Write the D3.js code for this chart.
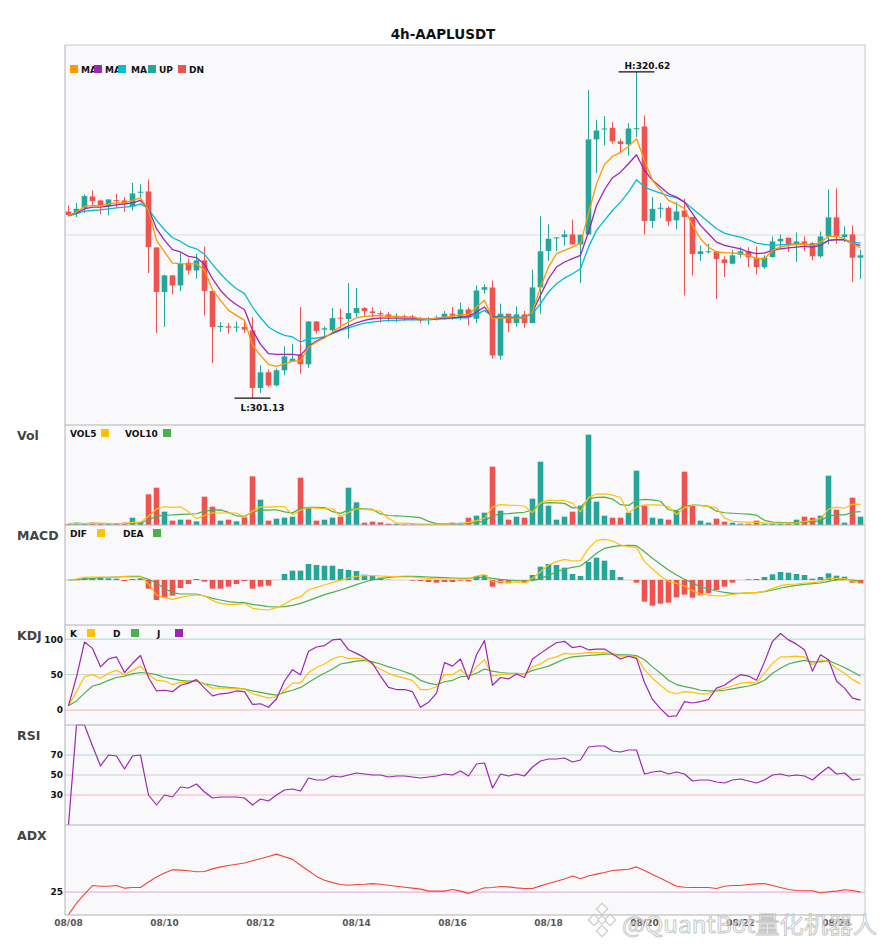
<!DOCTYPE html>
<html><head><meta charset="utf-8">
<script src="https://cdn.jsdelivr.net/npm/d3@7"></script>
<style>body{margin:0;background:#fff;} svg{display:block;font-family:"DejaVu Sans",sans-serif;}</style>
</head><body><svg id="chart" width="885" height="950"></svg>
<script>
const title = "4h-AAPLUSDT";
const dateLabels = ["08/08","08/10","08/12","08/14","08/16","08/18","08/20","08/22","08/24"];
const dateIndex = [0,12,24,36,48,60,72,84,96];

const open = [312.28,312.15,312.48,313.18,312.94,312.60,312.96,312.94,312.58,313.42,
313.48,310.13,307.47,308.46,307.86,309.22,308.76,309.36,307.53,305.40,
305.42,305.36,305.38,305.18,301.73,302.67,301.89,302.79,303.34,303.72,
303.15,305.71,305.22,305.18,305.93,305.85,306.21,306.51,306.31,306.21,
306.13,305.97,306.03,306.01,305.87,305.83,305.89,305.91,306.17,305.97,
306.43,305.87,307.60,307.74,303.66,306.17,305.61,306.13,305.61,307.74,
309.92,310.69,310.75,310.91,310.31,310.91,316.59,317.20,317.28,316.47,
316.29,317.20,317.36,311.71,312.46,312.50,311.75,312.34,311.95,309.74,
309.86,309.90,309.42,309.16,309.70,309.90,309.52,308.96,309.56,310.49,
310.71,310.35,310.49,310.39,309.60,310.79,311.93,310.75,310.91,309.52];
const high = [312.64,312.80,313.30,313.54,312.98,313.00,313.34,313.14,314.00,313.90,
314.20,310.13,308.50,308.46,309.82,309.46,309.76,310.19,307.53,305.67,
305.61,305.71,305.73,305.97,303.09,302.83,302.89,304.22,304.38,306.57,
305.71,305.71,305.41,306.51,306.47,308.00,307.71,306.57,306.57,306.33,
306.27,306.21,306.13,306.11,305.97,305.97,306.05,306.33,306.57,306.83,
306.57,307.86,307.92,308.16,306.77,306.17,306.61,306.33,308.80,311.99,
311.51,310.75,311.15,311.79,310.91,319.55,317.76,317.98,317.62,316.63,
317.56,320.62,318.02,313.14,312.78,312.60,312.84,313.04,311.95,310.25,
310.35,309.90,309.60,310.00,310.15,310.15,310.19,309.66,310.79,310.91,
310.71,311.03,310.79,310.45,311.09,313.60,313.66,311.39,311.45,310.00];
const low = [312.01,311.95,312.19,312.64,312.11,312.05,312.54,312.25,312.34,313.14,
308.60,305.02,305.38,307.33,307.53,308.52,308.26,306.07,303.22,305.08,
304.98,305.08,305.02,301.13,301.43,301.79,301.83,302.49,303.28,302.59,
302.93,304.98,304.68,304.98,305.28,304.68,305.97,305.97,305.97,305.63,
305.67,305.67,305.73,305.77,305.61,305.51,305.77,305.81,305.81,305.77,
305.47,305.61,307.37,303.48,303.42,305.08,305.41,305.33,305.61,306.17,
309.32,309.92,310.25,310.31,308.00,310.91,314.57,316.23,316.33,315.83,
315.63,316.73,310.91,311.29,311.89,311.41,311.21,307.27,308.46,309.32,
309.76,307.05,308.36,309.12,309.52,308.96,308.52,308.86,309.52,310.05,
309.86,309.26,309.92,309.36,309.52,310.31,310.35,310.45,308.06,308.24];
const close = [312.07,312.44,313.20,312.90,312.62,313.00,312.92,312.70,313.36,313.46,
310.15,307.47,308.46,307.86,309.16,308.76,309.36,307.53,305.38,305.44,
305.34,305.40,305.22,301.73,302.67,301.89,302.79,303.62,303.48,303.15,
305.71,305.14,305.30,305.91,305.87,306.21,306.51,306.33,306.21,306.13,
305.97,306.05,305.97,305.91,305.77,305.87,305.93,306.17,306.05,306.43,
305.97,307.56,307.76,303.68,306.17,305.61,306.13,305.61,307.74,309.90,
310.65,310.73,310.91,310.31,310.89,316.59,317.12,317.24,316.47,316.31,
317.24,317.26,311.71,312.44,312.50,311.69,312.28,311.95,309.74,309.90,
309.90,309.44,309.20,309.66,309.90,309.54,308.96,309.52,310.49,310.65,
310.29,310.49,310.35,309.60,310.79,311.93,310.79,310.91,309.52,309.66];

const ma5 = [312.05,312.25,312.58,312.64,312.60,312.74,312.80,312.80,312.94,313.10,
312.38,310.55,309.86,309.20,309.16,309.14,309.16,308.76,307.60,306.97,
306.37,306.07,305.77,304.28,303.68,303.15,303.03,303.18,303.34,303.34,
304.18,304.48,304.72,305.08,305.41,305.67,305.93,306.01,306.05,306.05,
306.01,306.01,305.97,305.97,305.87,305.83,305.91,305.97,306.01,306.11,
306.11,306.57,306.97,305.87,305.93,305.91,305.91,305.93,306.27,307.76,
308.96,309.76,309.96,310.15,310.39,312.15,313.94,315.09,315.57,315.81,
316.17,316.63,315.33,314.14,313.54,312.94,312.74,312.44,311.45,310.65,
310.15,309.86,309.82,309.80,309.76,309.66,309.46,309.46,309.96,310.15,
310.25,310.31,310.31,310.25,310.45,310.79,310.79,310.65,310.35,310.11];
const ma10 = [312.05,312.19,312.44,312.54,312.54,312.60,312.68,312.74,312.80,312.94,
312.44,311.25,310.55,310.00,309.86,309.60,309.52,309.12,308.26,307.56,
307.07,306.71,306.41,305.18,304.34,303.78,303.74,303.74,303.74,303.68,
304.22,304.54,304.78,305.02,305.22,305.43,305.63,305.77,305.87,305.91,
305.91,305.91,305.91,305.91,305.87,305.83,305.87,305.91,305.93,305.97,
306.01,306.27,306.57,305.97,305.97,305.93,305.93,305.93,306.27,307.27,
308.26,308.96,309.26,309.46,309.66,311.05,312.64,313.58,314.30,314.63,
315.13,315.67,314.73,314.14,313.74,313.34,313.14,312.84,312.15,311.45,
310.95,310.45,310.25,310.15,310.05,309.86,309.76,309.80,309.96,310.05,
310.11,310.15,310.19,310.15,310.25,310.55,310.59,310.59,310.35,310.25];
const ma20 = [312.01,312.15,312.30,312.34,312.38,312.44,312.50,312.54,312.58,312.74,
312.44,311.75,311.19,310.71,310.49,310.19,310.05,309.72,309.12,308.56,
308.06,307.66,307.37,306.57,305.93,305.38,305.08,304.88,304.78,304.48,
304.68,304.72,304.78,304.98,305.18,305.33,305.47,305.61,305.67,305.73,
305.77,305.77,305.81,305.81,305.81,305.81,305.85,305.87,305.89,305.93,
305.93,306.13,306.37,306.01,306.01,305.97,305.97,305.97,306.17,306.77,
307.47,307.96,308.30,308.56,308.86,310.15,311.15,311.75,312.34,312.84,
313.44,314.18,313.74,313.54,313.38,313.22,313.10,312.84,312.44,312.05,
311.65,311.25,310.99,310.85,310.75,310.59,310.39,310.31,310.25,310.29,
310.31,310.35,310.31,310.29,310.31,310.55,310.61,310.59,310.45,310.39];

const volume = [3,7,3,7,3,3,3,7,22,8, 92,112,40,13,16,16,11,85,55,13,
16,11,23,146,76,13,19,22,25,142, 51,13,16,22,25,112,68,7,10,8,
4,4,2,2,2,2,2,2,7,7, 22,28,37,175,43,16,25,22,79,190,
58,16,25,40,58,271,70,28,22,22, 37,163,58,22,19,16,43,160,58,13,
7,19,10,7,4,4,13,4,4,4, 4,16,25,22,28,148,46,7,82,25];
const vol5 = [3,5,4.3,5,4.6,4.6,3.8,4.6,7.6,8.6, 26.4,48.2,54.8,53,54.6,39.4,19.2,28.2,36.6,36,
36,36,23.6,41.8,54.4,53.8,55.4,55.2,31,44.2, 51.8,50.6,49.4,48.8,25.4,37.6,48.6,46.8,44.4,41,
19.4,6.6,5.6,4,2.8,2.4,2,2,3,4, 8,13.2,20.2,53.8,61,59.8,59.2,56.2,37,66.4,
74.8,73,73.6,65.8,39.4,82,92.8,93.4,89.8,82.6, 35.8,54.4,60.4,60.4,59.8,55.6,31.6,52,59.2,58,
56.2,51.4,21.4,11.2,9.4,8.8,7.6,6.4,5.8,5.8, 5.8,6.4,10.6,14.2,19,47.8,53.8,50.2,62.2,61.6];
const vol10 = [3,5,4.3,5,4.6,4.3,4.1,4.5,6.3,6.6, 15.5,26,29.7,30.3,31.6,32.9,33.7,41.5,44.8,45.3,
37.7,27.6,25.9,39.2,45.2,44.9,45.7,39.4,36.4,49.3, 52.8,53,52.3,39.9,34.8,44.7,49.6,48.1,46.6,33.2,
28.5,27.6,26.2,24.2,21.9,10.9,4.3,3.8,3.5,3.4, 5.2,7.6,11.1,28.4,32.5,33.9,36.2,38.2,45.4,63.7,
67.3,66.1,64.9,51.4,52.9,78.4,82.9,83.5,77.8,61, 58.9,73.6,76.9,75.1,71.2,45.7,43,56.2,59.8,58.9,
55.9,41.5,36.7,35.2,33.7,32.5,29.5,13.9,8.5,7.6, 7.3,7,8.5,10,12.4,26.8,30.1,30.4,38.2,40.3];

const dif = [0,0.03,0.08,0.09,0.09,0.08,0.09,0.11,0.12,0.12,
-0.12,-0.45,-0.53,-0.58,-0.52,-0.48,-0.45,-0.47,-0.62,-0.70,
-0.73,-0.73,-0.70,-0.85,-0.88,-0.90,-0.83,-0.73,-0.58,-0.50,
-0.30,-0.22,-0.15,-0.07,-0.01,0.06,0.11,0.13,0.13,0.12,
0.11,0.10,0.09,0.09,0.07,0.05,0.03,0.03,0.03,0.03,
0.03,0.12,0.16,-0.05,-0.05,-0.07,-0.06,-0.08,0.05,0.25,
0.45,0.55,0.62,0.57,0.58,0.95,1.18,1.22,1.17,1.05,
1.00,0.98,0.55,0.33,0.12,-0.04,-0.10,-0.18,-0.32,-0.42,
-0.45,-0.48,-0.47,-0.43,-0.40,-0.38,-0.38,-0.34,-0.25,-0.17,
-0.13,-0.12,-0.09,-0.08,-0.05,0.05,0.05,0.04,-0.03,-0.10];
const dea = [0,0.01,0.03,0.05,0.07,0.08,0.09,0.10,0.10,0.10,
0.02,-0.10,-0.25,-0.38,-0.42,-0.42,-0.42,-0.48,-0.55,-0.60,
-0.65,-0.67,-0.68,-0.73,-0.76,-0.80,-0.81,-0.80,-0.76,-0.70,
-0.62,-0.53,-0.44,-0.37,-0.30,-0.22,-0.14,-0.06,0.00,0.04,
0.08,0.10,0.11,0.11,0.10,0.09,0.08,0.07,0.06,0.05,
0.05,0.07,0.09,0.05,0.02,0.00,-0.02,-0.03,-0.02,0.04,
0.14,0.24,0.33,0.38,0.42,0.60,0.80,0.95,1.00,1.03,
1.04,1.03,0.85,0.65,0.47,0.30,0.15,0.02,-0.10,-0.20,
-0.27,-0.33,-0.37,-0.40,-0.40,-0.39,-0.38,-0.35,-0.30,-0.24,
-0.20,-0.16,-0.13,-0.11,-0.09,-0.04,0.00,0.02,0.00,-0.04];
const macdHist = [0,0.02,0.06,0.06,0.06,0.05,0.04,-0.03,0.03,0.05,
-0.26,-0.60,-0.52,-0.47,-0.24,-0.12,0.03,-0.05,-0.26,-0.26,
-0.20,-0.12,-0.03,-0.26,-0.20,-0.17,0,0.18,0.28,0.28,
0.48,0.45,0.43,0.43,0.33,0.30,0.27,0.16,0.12,0.07,
0.01,0,0,-0.02,-0.03,-0.06,-0.08,-0.06,-0.06,-0.02,
-0.04,0.12,0.15,-0.20,-0.10,-0.10,-0.02,-0.08,0.15,0.40,
0.48,0.45,0.37,0.18,0.12,0.54,0.67,0.58,0.30,0.09,
0,-0.08,-0.65,-0.77,-0.71,-0.68,-0.52,-0.44,-0.53,-0.46,
-0.40,-0.30,-0.20,-0.08,0,0.02,0.03,0.09,0.17,0.24,
0.22,0.18,0.15,0.04,0.09,0.20,0.13,0.10,-0.08,-0.10];

const kLine = [6,26,47,50,45,52,56,50,56,62, 50,42,41,36,39,39,42,36,31,31,
31,30,30,23,20,17,19,28,38,38, 53,60,65,72,76,73,73,72,64,58,
52,48,45,42,29,29,33,50,50,57, 47,61,71,48,50,51,51,51,61,65,
72,75,80,79,80,81,81,81,79,76, 76,75,57,45,35,26,23,26,25,23,
23,28,31,34,38,39,38,52,66,75, 75,76,75,64,71,68,59,52,43,37];
const dLine = [6,13,24,34,37,42,46,48,51,53, 52,50,46,44,42,41,41,37,35,33,
32,31,30,27,25,23,21,25,28,32, 39,46,52,58,65,67,69,70,68,65,
61,58,54,50,42,38,36,40,42,47, 48,52,58,55,53,52,52,51,56,59,
62,67,72,75,76,77,78,79,79,78, 78,77,71,61,52,42,36,33,31,28,
27,27,28,30,32,34,37,42,52,59, 65,68,70,68,68,70,65,60,54,48];
const jLine = [6,47,96,87,61,72,75,53,66,77, 46,27,28,26,35,38,43,31,20,23,
24,27,26,8,9,4,16,41,57,50, 83,89,91,99,100,85,80,74,66,48,
32,29,29,26,4,11,24,67,62,72, 43,78,98,35,46,44,51,46,72,80,
88,95,97,88,90,85,86,86,79,72, 76,73,39,15,2,-9,-8,12,10,12,
15,31,35,43,50,48,42,68,97,108, 99,93,85,55,78,71,41,31,17,14];

const rsi = [0,100,100,79,59,70,69,56,69,70, 30,20,30,28,38,37,41,33,27,28,
28,28,27,20,26,24,30,35,36,34, 47,45,45,49,48,50,52,51,50,50,
48,49,49,48,47,48,49,51,50,54, 49,61,62,37,51,49,51,49,58,64,
66,66,67,63,65,78,79,79,74,73, 75,75,51,53,54,51,53,51,44,45,
45,43,42,45,46,44,42,45,50,51, 49,50,49,45,52,58,51,52,45,46];

const adx = [18.1,21.6,24.4,27.0,26.8,26.8,27.0,26.2,26.4,26.4,
28.1,29.6,30.8,31.8,31.7,31.5,31.2,31.3,32.1,32.7,
33.1,33.5,33.9,34.6,35.2,35.9,36.6,35.8,35.0,33.2,
31.5,29.8,28.6,27.9,27.3,27.1,27.3,27.4,27.6,27.4,
27.1,26.8,26.5,26.2,25.9,25.3,25.3,25.3,25.8,25.3,
24.6,25.5,26.3,26.4,26.7,26.6,26.3,26.1,26.1,26.9,
27.6,28.3,29.0,29.9,29.1,29.9,30.5,31.0,31.6,31.8,
32.0,32.7,31.6,30.4,29.2,28.0,26.8,26.5,26.4,26.4,
26.4,26.1,26.8,27.0,27.0,27.3,27.5,27.6,27.0,26.4,
25.8,25.5,25.4,25.4,24.7,25.1,25.3,25.7,25.5,25.0];

// ---------- drawing ----------
const svg = d3.select('#chart');
const L = 65, R = 865;
const P = {main:[45,425], vol:[425,525], macd:[525,625], kdj:[625,725], rsi:[725,825], adx:[825,915]};
const UP = '#26a69a', DN = '#ef5350';
const C = {ma5:'#ff9800', ma10:'#9c27b0', ma20:'#00bcd4', yel:'#ffc107', grn:'#4caf50', pur:'#9c27b0', red:'#f44336'};
const n = close.length;

const x = d3.scaleBand().domain(d3.range(n)).range([64.5, 864.5]).paddingInner(0.3).paddingOuter(0.15);
const bw = x.bandwidth();
const cx = i => x(i) + bw / 2;

const pLo = d3.min(low), pHi = d3.max(high), pad = (pHi - pLo) * 0.0826;
const yP = d3.scaleLinear().domain([pLo - pad, pHi + pad]).range([P.main[1], P.main[0]]);
const yV = d3.scaleLinear().domain([0, 300]).range([P.vol[1], P.vol[0]]);
const yM = d3.scaleLinear().domain([-1.35, 1.65]).range([P.macd[1], P.macd[0]]);
const yK = d3.scaleLinear().domain([-21, 120]).range([P.kdj[1], P.kdj[0]]);
const yR = d3.scaleLinear().domain([0, 100]).range([P.rsi[1], P.rsi[0]]);
const yA = d3.scaleLinear().domain([18, 45.5]).range([P.adx[1], P.adx[0]]);

// title
svg.append('text').attr('x', 443).attr('y', 39).attr('text-anchor', 'middle')
  .attr('font-weight', 'bold').attr('font-size', 13.5).attr('fill', '#111').text(title);

// panel backgrounds
Object.values(P).forEach(([t, b]) => {
  svg.append('rect').attr('x', L).attr('y', t).attr('width', R - L).attr('height', b - t).attr('fill', '#f9f9fb');
});

function hline(y, color, w) {
  svg.append('line').attr('x1', L).attr('x2', R).attr('y1', y).attr('y2', y)
    .attr('stroke', color).attr('stroke-width', w || 1);
}
// reference / grid lines
hline(yP((pLo + pHi) / 2), '#dcdcdc');
hline(yM(0), '#d0d0d0');
hline(yK(100), '#a8d8d2'); hline(yK(50), '#cfcfcf'); hline(yK(0), '#f4b4b4');
hline(yR(70), '#a8d8d2'); hline(yR(50), '#cfcfcf'); hline(yR(30), '#f4b4b4');
hline(yA(25), '#d7a6e0');

const idx = d3.range(n);
const isUp = i => close[i] >= open[i];

// candles
const cg = svg.append('g');
cg.selectAll('line.w').data(idx).join('line')
  .attr('x1', cx).attr('x2', cx)
  .attr('y1', i => yP(high[i])).attr('y2', i => yP(low[i]))
  .attr('stroke', i => isUp(i) ? UP : DN).attr('stroke-width', 1);
cg.selectAll('rect').data(idx).join('rect')
  .attr('x', i => x(i)).attr('width', bw)
  .attr('y', i => Math.min(yP(open[i]), yP(close[i])))
  .attr('height', i => Math.max(1, Math.abs(yP(open[i]) - yP(close[i]))))
  .attr('fill', i => isUp(i) ? UP : DN);

function path(arr, ys, color, w) {
  svg.append('path').datum(arr)
    .attr('d', d3.line().x((d, i) => cx(i)).y(d => ys(d)))
    .attr('fill', 'none').attr('stroke', color).attr('stroke-width', w || 1.3)
    .attr('stroke-linejoin', 'round');
}
path(ma20, yP, C.ma20);
path(ma10, yP, C.ma10);
path(ma5, yP, C.ma5);

// high / low markers
const hiI = d3.maxIndex(high), loI = d3.minIndex(low);
function marker(i, v, dy) {
  const y = yP(v);
  svg.append('line').attr('x1', cx(i) - 18).attr('x2', cx(i) + 18).attr('y1', y).attr('y2', y)
    .attr('stroke', '#111').attr('stroke-width', 1.2);
  return y + dy;
}
svg.append('text').attr('x', cx(hiI) - 12).attr('y', marker(hiI, high[hiI], -3))
  .attr('font-size', 9).attr('font-weight', 'bold').attr('fill', '#111').text('H:' + high[hiI].toFixed(2));
svg.append('text').attr('x', cx(loI) - 12).attr('y', marker(loI, low[loI], 12.5))
  .attr('font-size', 9).attr('font-weight', 'bold').attr('fill', '#111').text('L:' + low[loI].toFixed(2));

// volume
svg.append('g').selectAll('rect').data(idx).join('rect')
  .attr('x', i => x(i)).attr('width', bw)
  .attr('y', i => yV(volume[i])).attr('height', i => yV(0) - yV(volume[i]))
  .attr('fill', i => isUp(i) ? UP : DN);
path(vol10, yV, C.grn, 1.2);
path(vol5, yV, C.yel, 1.2);

// MACD
svg.append('g').selectAll('rect').data(idx).join('rect')
  .attr('x', i => x(i)).attr('width', bw)
  .attr('y', i => Math.min(yM(0), yM(macdHist[i])))
  .attr('height', i => Math.abs(yM(macdHist[i]) - yM(0)))
  .attr('fill', i => macdHist[i] >= 0 ? UP : DN);
path(dea, yM, C.grn, 1.2);
path(dif, yM, C.yel, 1.2);

// KDJ
path(dLine, yK, C.grn, 1.2);
path(kLine, yK, C.yel, 1.2);
path(jLine, yK, C.pur, 1.2);

// RSI
path(rsi, yR, C.pur, 1.2);

// ADX
path(adx, yA, C.red, 1.1);

// borders
svg.append('line').attr('x1', L).attr('x2', R).attr('y1', P.main[0]).attr('y2', P.main[0]).attr('stroke', '#c8c8d0');
[P.vol[0], P.macd[0], P.kdj[0], P.rsi[0], P.adx[0], P.adx[1]].forEach(y => hline(y, '#b0b0b8'));
svg.append('line').attr('x1', L).attr('x2', L).attr('y1', P.main[0]).attr('y2', P.adx[1]).attr('stroke', '#b0b0b8');
svg.append('line').attr('x1', R).attr('x2', R).attr('y1', P.main[0]).attr('y2', P.adx[1]).attr('stroke', '#c8c8d0');

// y axes (tick labels only)
function yaxis(scale, vals) {
  const g = svg.append('g').attr('transform', `translate(${L},0)`)
    .call(d3.axisLeft(scale).tickValues(vals).tickSize(0).tickPadding(2));
  g.select('.domain').remove();
  g.selectAll('text').attr('font-size', 9).attr('font-weight', 'bold').attr('fill', '#111')
    .attr('font-family', '"DejaVu Sans",sans-serif');
}
yaxis(yK, [0, 50, 100]);
yaxis(yR, [30, 50, 70]);
yaxis(yA, [25]);

// x axis
const xg = svg.append('g').attr('transform', `translate(0,${P.adx[1]})`)
  .call(d3.axisBottom(x).tickValues(dateIndex).tickFormat((d, i) => dateLabels[i]).tickSize(0).tickPadding(5));
xg.select('.domain').remove();
xg.selectAll('text').attr('font-size', 9).attr('font-weight', 'bold').attr('fill', '#555')
  .attr('font-family', '"DejaVu Sans",sans-serif');

// panel labels
[['Vol', P.vol[0]], ['MACD', P.macd[0]], ['KDJ', P.kdj[0]], ['RSI', P.rsi[0]], ['ADX', P.adx[0]]].forEach(([t, y]) => {
  svg.append('text').attr('x', 17).attr('y', y + 15).attr('font-size', 12.5).attr('font-weight', 'bold')
    .attr('fill', '#444').text(t);
});

// legends
function legendItem(sx, tx, top, color, label) {
  svg.append('rect').attr('x', sx).attr('y', top).attr('width', 8).attr('height', 8).attr('fill', color);
  svg.append('text').attr('x', tx).attr('y', top + 7.5).attr('font-size', 9).attr('font-weight', 'bold')
    .attr('fill', '#111').text(label);
}
legendItem(70, 81, 65, C.ma5, 'MA');
legendItem(94, 105, 65, C.ma10, 'MA');
legendItem(118, 131, 65, C.ma20, 'MA');
legendItem(148, 159, 65, UP, 'UP');
legendItem(178, 189, 65, DN, 'DN');

function subLegend(top, items) {
  items.forEach(([label, tx, sx, color]) => {
    svg.append('text').attr('x', tx).attr('y', top + 11.5).attr('font-size', 9).attr('font-weight', 'bold')
      .attr('fill', '#111').text(label);
    svg.append('rect').attr('x', sx).attr('y', top + 4).attr('width', 8).attr('height', 8).attr('fill', color);
  });
}
subLegend(P.vol[0], [['VOL5', 70, 101, C.yel], ['VOL10', 125, 163, C.grn]]);
subLegend(P.macd[0], [['DIF', 70, 97, C.yel], ['DEA', 123, 153, C.grn]]);
subLegend(P.kdj[0], [['K', 70, 87, C.yel], ['D', 113, 131, C.grn], ['J', 157, 175, C.pur]]);

// watermark (overlays the axis labels as in the reference image)
const wm = svg.append('g').attr('opacity', 0.85);
[[602, 909], [594, 920], [610, 920], [602, 931], [602, 920]].forEach(([a, b], k) => {
  wm.append('rect').attr('x', a - (k === 4 ? 3 : 4)).attr('y', b - (k === 4 ? 3 : 4))
    .attr('width', k === 4 ? 6 : 8).attr('height', k === 4 ? 6 : 8)
    .attr('transform', `rotate(45 ${a} ${b})`)
    .attr('fill', '#fff').attr('stroke', '#c4c4c4').attr('stroke-width', 1.2);
});
wm.append('text').attr('x', 622).attr('y', 933)
  .attr('font-family', '"Noto Sans CJK SC","Noto Sans",sans-serif').attr('font-size', 23)
  .attr('textLength', 255).attr('lengthAdjust', 'spacingAndGlyphs')
  .attr('fill', '#ffffff').attr('fill-opacity', 0.7).attr('stroke', '#bdbdbd').attr('stroke-width', 0.9)
  .text('@QuantBot量化机器人');
</script></body></html>
